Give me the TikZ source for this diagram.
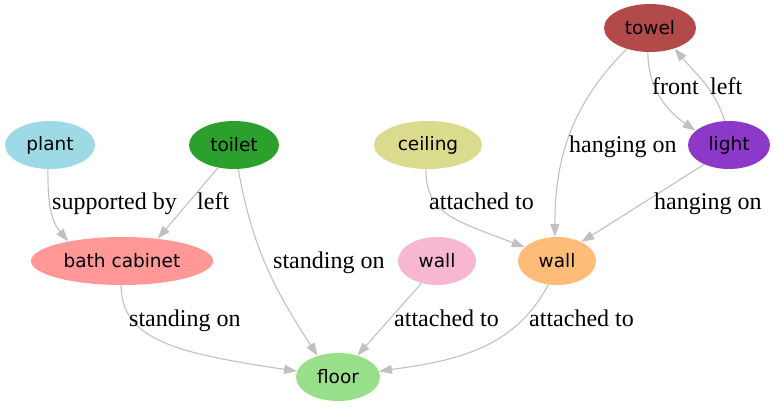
\documentclass[tikz,border=0pt]{standalone}
\usepackage{fontspec}
\setmainfont{Liberation Serif}
\newfontfamily\nodefont{DejaVu Sans}
\definecolor{towelRed}{RGB}{179,74,74}
\definecolor{plantBlue}{RGB}{158,218,229}
\definecolor{toiletGreen}{RGB}{44,160,44}
\definecolor{ceilingOlive}{RGB}{219,219,141}
\definecolor{lightPurple}{RGB}{140,56,200}
\definecolor{cabinetPink}{RGB}{255,152,150}
\definecolor{wallPink}{RGB}{247,182,210}
\definecolor{wallOrange}{RGB}{255,187,120}
\definecolor{floorGreen}{RGB}{152,223,138}
\definecolor{edgeGray}{RGB}{192,192,192}
\usetikzlibrary{shapes.geometric,arrows.meta}

\begin{document}
\begin{tikzpicture}[x=1pt,y=1pt,
                obj/.style={ellipse,minimum height=48pt,inner sep=0pt,
                           font=\nodefont\fontsize{18.5}{22}\selectfont},
                rel/.style={draw=edgeGray,line width=1.1pt,-{Triangle[length=13pt,width=9pt]}},
                lbl/.style={anchor=base west,inner sep=0pt,font=\fontsize{24}{28}\selectfont}
            ]
                \useasboundingbox (0,0) rectangle (775,-407);
                \node[obj,fill=towelRed,minimum width=92pt] (towel) at (650,-28) {towel};
                \node[obj,fill=plantBlue,minimum width=90pt] (plant) at (50,-145) {plant};
                \node[obj,fill=toiletGreen,minimum width=90pt] (toilet) at (234,-145) {toilet};
                \node[obj,fill=ceilingOlive,minimum width=108pt] (ceiling) at (428,-145) {ceiling};
                \node[obj,fill=lightPurple,minimum width=82pt] (light) at (729,-145) {light};
                \node[obj,fill=cabinetPink,minimum width=182pt] (cabinet) at (122,-261) {bath cabinet};
                \node[obj,fill=wallPink,minimum width=78pt] (wallA) at (437,-261) {wall};
                \node[obj,fill=wallOrange,minimum width=78pt] (wallB) at (557,-261) {wall};
                \node[obj,fill=floorGreen,minimum width=84pt] (floor) at (338,-377) {floor};

                \draw[rel] (plant.265) to[out=-90,in=130] (cabinet.160);
                \draw[rel] (toilet.235) -- (cabinet.32);
                \draw[rel] (toilet.280) to[out=-80,in=123] (floor.134);
                \draw[rel] (cabinet.268) .. controls +(0,-55) and +(-120,18) .. (floor.172);
                \draw[rel] (wallA.235) -- (floor.48);
                \draw[rel] (wallB.250) to[out=-118,in=8] (floor.8);
                \draw[rel] (ceiling.265) .. controls +(0,-45) and +(-70,27) .. (wallB.157);
                \draw[rel] (towel.222) to[out=-135,in=90] (wallB.95);
                \draw[rel] (towel.265) to[out=-90,in=145] (light.157);
                \draw[rel] (light.100) to[out=108,in=-50] (towel.-40);
                \draw[rel] (light.218) -- (wallB.38);

                \node[lbl] (supp) at (52,-209) {supported by};
                \node[lbl] (leftA) at (197,-209) {left};
                \node[lbl] (standA) at (273,-268) {standing on};
                \node[lbl] (standB) at (129,-326) {standing on};
                \node[lbl] (attA) at (394,-326) {attached to};
                \node[lbl] (attB) at (529,-326) {attached to};
                \node[lbl] (attC) at (429,-209) {attached to};
                \node[lbl] (hangA) at (569,-152) {hanging on};
                \node[lbl] (front) at (652,-94) {front};
                \node[lbl] (leftB) at (710,-94) {left};
                \node[lbl] (hangB) at (654,-209) {hanging on};
            \end{tikzpicture}
\end{document}
